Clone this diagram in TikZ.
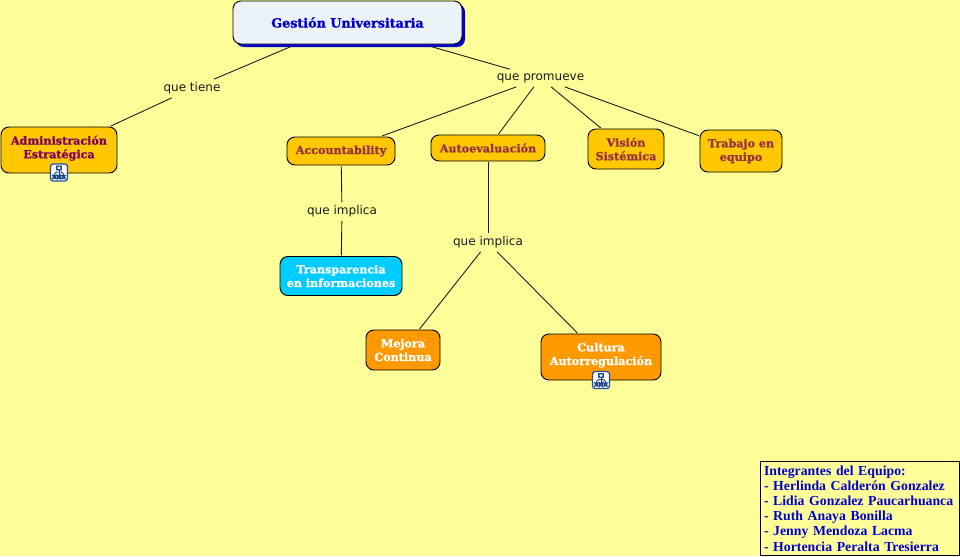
\documentclass[tikz,border=0pt]{standalone}
\usepackage{fontspec}
\setmainfont{DejaVu Sans}
\newfontfamily\conceptfont[BoldFeatures={FakeBold=1.3}]{DejaVu Serif}
\newfontfamily\teamfont{Liberation Serif}
\usetikzlibrary{calc}
\definecolor{paper}{HTML}{FFFF99}
\definecolor{gold}{HTML}{FFC800}
\definecolor{tangerine}{HTML}{FF9900}
\definecolor{sky}{HTML}{00CCFF}
\definecolor{rootfill}{HTML}{EBF3F9}
\definecolor{rootblue}{HTML}{0000CC}
\definecolor{wine}{HTML}{993344}
\definecolor{plum}{HTML}{800060}
\definecolor{iconblue}{HTML}{1F4FA8}
\tikzset{
  concept/.style={draw=black, line width=0.55pt, rounded corners=4.5pt, inner sep=0pt, outer sep=0.6pt, align=center,
    font=\conceptfont\bfseries\fontsize{6.35}{7.75}\selectfont},
  goldbox/.style={concept, fill=gold, text=wine},
  orangebox/.style={concept, fill=tangerine, text=white},
  linkword/.style={inner sep=0pt, font=\fontsize{6.85}{8}\selectfont, text=black!90},
  link/.style={draw=black!90, line width=0.5pt},
  iconbox/.style={draw=iconblue, fill=white, rounded corners=1.5pt, line width=0.7pt, minimum size=17*0.02cm, inner sep=0pt,
    path picture={
      \coordinate (c) at (path picture bounding box.center);
      \draw[iconblue!80!black, line width=0.55pt] ($(c)+(-2.5,-6.5)$) rectangle ($(c)+(2.5,-2.5)$);
      \draw[iconblue!80!black, line width=0.55pt] ($(c)+(0,-2.5)$) -- ($(c)+(0,3)$);
      \draw[iconblue!80!black, line width=0.55pt] ($(c)+(-4.5,3)$) -- ($(c)+(-4.5,-0.5)$) -- ($(c)+(4.5,-0.5)$) -- ($(c)+(4.5,3)$);
      \draw[iconblue!80!black, line width=0.55pt] ($(c)+(-6,3)$) rectangle ($(c)+(-3,6)$);
      \draw[iconblue!80!black, line width=0.55pt] ($(c)+(-1.5,3)$) rectangle ($(c)+(1.5,6)$);
      \draw[iconblue!80!black, line width=0.55pt] ($(c)+(3,3)$) rectangle ($(c)+(6,6)$);
    }},
}
\begin{document}
\begin{tikzpicture}[x=0.02cm, y=-0.02cm]
    \useasboundingbox[fill=paper] (0,0) rectangle (960,556);

    % shadow goes under the root box
    \fill[rootblue, rounded corners=4.5pt] (236,4) rectangle (465,47);

    \node (root) [concept, fill=rootfill, text=rootblue, minimum width=229*0.02cm, minimum height=43*0.02cm, outer sep=1.5pt,
        font=\conceptfont\bfseries\fontsize{7.25}{9}\selectfont] at (347.5,22.5) {Gesti\'on Universitaria};

    \node (admin) [goldbox, text=plum, text depth=3.5pt, minimum width=116*0.02cm, minimum height=46*0.02cm] at (59,150) {Administraci\'on\\Estrat\'egica};
    \node (account) [goldbox, minimum width=108*0.02cm, minimum height=28*0.02cm] at (341,151) {Accountability};
    \node (autoeval) [goldbox, minimum width=114*0.02cm, minimum height=26*0.02cm] at (488,148) {Autoevaluaci\'on};
    \node (vision) [goldbox, minimum width=76*0.02cm, minimum height=40*0.02cm] at (626,149) {Visi\'on\\Sist\'emica};
    \node (trabajo) [goldbox, minimum width=82*0.02cm, minimum height=42*0.02cm] at (741,151) {Trabajo en\\equipo};
    \node (transp) [concept, fill=sky, text=white, minimum width=122*0.02cm, minimum height=39*0.02cm] at (341,276) {Transparencia\\en informaciones};
    \node (mejora) [orangebox, minimum width=74*0.02cm, minimum height=40*0.02cm] at (403,350) {Mejora\\Continua};
    \node (cultura) [orangebox, text depth=3.5pt, minimum width=120*0.02cm, minimum height=46*0.02cm] at (601,357) {Cultura\\Autorregulaci\'on};

    \node (tiene) [linkword, minimum width=58*0.02cm, minimum height=18*0.02cm] at (192,88.5) {que tiene};
    \node (promueve) [linkword, minimum width=90*0.02cm, minimum height=17*0.02cm] at (540.5,78) {que promueve};
    \node (implicaA) [linkword, minimum width=72*0.02cm, minimum height=18*0.02cm] at (342,211.5) {que implica};
    \node (implicaB) [linkword, minimum width=72*0.02cm, minimum height=18*0.02cm] at (488,242.5) {que implica};

    \draw[link] (root) -- (tiene);
    \draw[link] (tiene) -- (admin);
    \draw[link] (root) -- (promueve);
    \draw[link] (promueve) -- (account);
    \draw[link] (promueve) -- (autoeval);
    \draw[link] (promueve) -- (vision);
    \draw[link] (promueve) -- (trabajo);
    \draw[link] (account) -- (implicaA);
    \draw[link] (implicaA) -- (transp);
    \draw[link] (autoeval) -- (implicaB);
    \draw[link] (implicaB) -- (mejora);
    \draw[link] (implicaB) -- (cultura);

    \node (iconadmin) [iconbox] at (59,172.5) {};
    \node (iconcultura) [iconbox] at (601,380) {};

    \node (team) [draw=black, line width=0.55pt, inner sep=0pt, minimum width=199*0.02cm, minimum height=94*0.02cm,
        text width=191*0.02cm, align=left, text=rootblue, font=\teamfont\bfseries\fontsize{7.85}{8.6}\selectfont] at (859.5,508.5)
        {Integrantes del Equipo:\\- Herlinda Calder\'on Gonzalez\\- Lidia Gonzalez Paucarhuanca\\- Ruth Anaya Bonilla\\- Jenny Mendoza Lacma\\- Hortencia Peralta Tresierra};
\end{tikzpicture}
\end{document}
